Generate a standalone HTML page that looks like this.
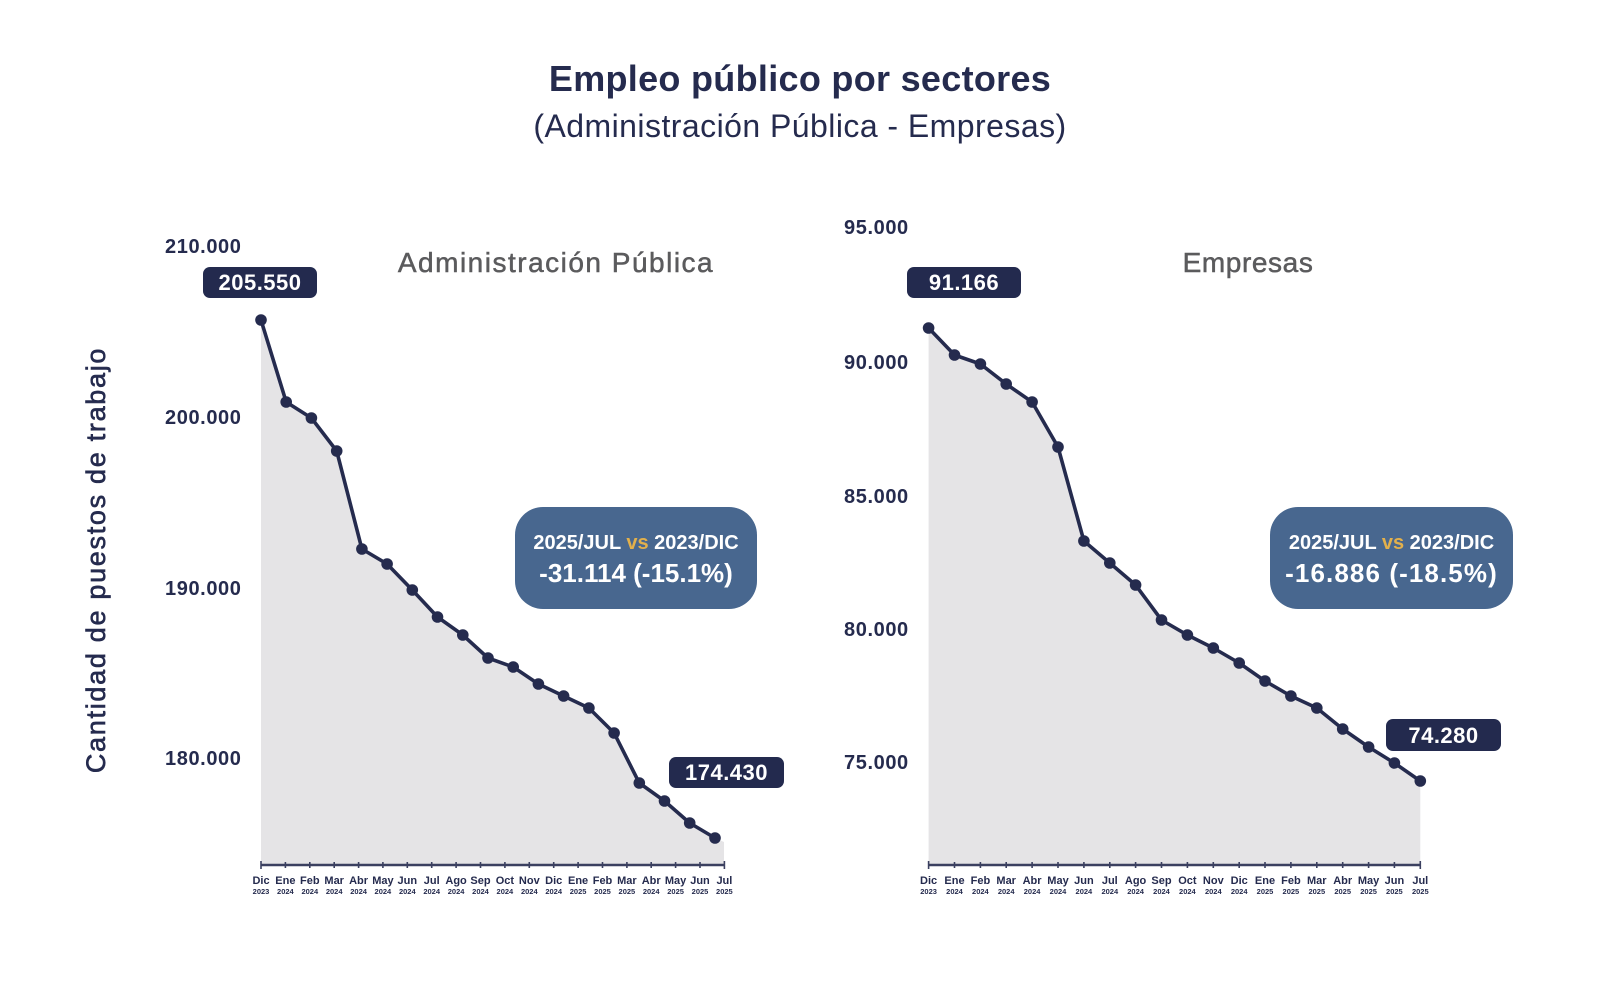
<!DOCTYPE html>
<html>
<head>
<meta charset="utf-8">
<style>
  html, body { margin: 0; padding: 0; background: #ffffff; }
  body { width: 1600px; height: 1004px; overflow: hidden; }
  svg { display: block; }
  text { font-family: "Liberation Sans", "DejaVu Sans", sans-serif; }
  .tick { font-size: 20px; font-weight: bold; fill: #252b4e; letter-spacing: 0.6px; }
  .mon { font-size: 11px; font-weight: bold; fill: #252b4e; text-anchor: middle; }
  .yr { font-size: 7.5px; font-weight: bold; fill: #252b4e; text-anchor: middle; }
  .lbl { font-size: 22px; font-weight: bold; fill: #ffffff; text-anchor: middle; letter-spacing: 0.5px; }
  .ct { font-size: 28px; fill: #5b5b5d; text-anchor: middle; letter-spacing: 1.5px; stroke: #5b5b5d; stroke-width: 0.5px; }
  .a1 { font-size: 20px; font-weight: bold; fill: #ffffff; text-anchor: middle; }
  .a2 { font-size: 26px; font-weight: bold; fill: #ffffff; text-anchor: middle; }
  .gold { fill: #e2b04c; }
</style>
</head>
<body>
<svg width="1600" height="1004" viewBox="0 0 1600 1004" xmlns="http://www.w3.org/2000/svg">
  <rect width="1600" height="1004" fill="#ffffff"/>

  <!-- Titles -->
  <text x="800" y="91" text-anchor="middle" style="font-size:36px;font-weight:bold;fill:#252b4e;letter-spacing:0.3px;">Empleo público por sectores</text>
  <text x="800" y="137" text-anchor="middle" style="font-size:32px;fill:#252b4e;letter-spacing:0.45px;">(Administración Pública - Empresas)</text>

  <!-- Y axis label -->
  <text transform="translate(105,560) rotate(-90)" text-anchor="middle" style="font-size:27px;fill:#252b4e;letter-spacing:1.7px;stroke:#252b4e;stroke-width:0.6px;">Cantidad de puestos de trabajo</text>

  <!-- ================= LEFT CHART ================= -->
  <text class="tick" x="165" y="253">210.000</text>
  <text class="tick" x="165" y="424">200.000</text>
  <text class="tick" x="165" y="595">190.000</text>
  <text class="tick" x="165" y="765">180.000</text>

  <text class="ct" x="556" y="272">Administración Pública</text>

  <polygon fill="#e5e4e6" points="261,320 286.2,402 311.4,418 336.7,451 361.9,549 387.1,564 412.3,590 437.5,617 462.8,635 488,658 513.2,667 538.4,684 563.6,696 588.9,708 614.1,733 639.3,783 664.5,801 689.7,823 715,838 724,842 724,865 261,865"/>

  <line x1="261" y1="865" x2="724.4" y2="865" stroke="#3b4060" stroke-width="2.5"/>
  <g stroke="#3b4060" stroke-width="1.6">
    <line x1="261" y1="861" x2="261" y2="869"/>
    <line x1="285.4" y1="862" x2="285.4" y2="868"/>
    <line x1="309.8" y1="862" x2="309.8" y2="868"/>
    <line x1="334.2" y1="862" x2="334.2" y2="868"/>
    <line x1="358.6" y1="862" x2="358.6" y2="868"/>
    <line x1="382.9" y1="862" x2="382.9" y2="868"/>
    <line x1="407.3" y1="862" x2="407.3" y2="868"/>
    <line x1="431.7" y1="862" x2="431.7" y2="868"/>
    <line x1="456.1" y1="862" x2="456.1" y2="868"/>
    <line x1="480.5" y1="862" x2="480.5" y2="868"/>
    <line x1="504.9" y1="862" x2="504.9" y2="868"/>
    <line x1="529.3" y1="862" x2="529.3" y2="868"/>
    <line x1="553.7" y1="862" x2="553.7" y2="868"/>
    <line x1="578.1" y1="862" x2="578.1" y2="868"/>
    <line x1="602.5" y1="862" x2="602.5" y2="868"/>
    <line x1="626.9" y1="862" x2="626.9" y2="868"/>
    <line x1="651.2" y1="862" x2="651.2" y2="868"/>
    <line x1="675.6" y1="862" x2="675.6" y2="868"/>
    <line x1="700" y1="862" x2="700" y2="868"/>
    <line x1="724.4" y1="861" x2="724.4" y2="869"/>
  </g>

  <g>
    <text class="mon" x="261" y="884">Dic</text><text class="yr" x="261" y="894">2023</text>
    <text class="mon" x="285.4" y="884">Ene</text><text class="yr" x="285.4" y="894">2024</text>
    <text class="mon" x="309.8" y="884">Feb</text><text class="yr" x="309.8" y="894">2024</text>
    <text class="mon" x="334.2" y="884">Mar</text><text class="yr" x="334.2" y="894">2024</text>
    <text class="mon" x="358.6" y="884">Abr</text><text class="yr" x="358.6" y="894">2024</text>
    <text class="mon" x="382.9" y="884">May</text><text class="yr" x="382.9" y="894">2024</text>
    <text class="mon" x="407.3" y="884">Jun</text><text class="yr" x="407.3" y="894">2024</text>
    <text class="mon" x="431.7" y="884">Jul</text><text class="yr" x="431.7" y="894">2024</text>
    <text class="mon" x="456.1" y="884">Ago</text><text class="yr" x="456.1" y="894">2024</text>
    <text class="mon" x="480.5" y="884">Sep</text><text class="yr" x="480.5" y="894">2024</text>
    <text class="mon" x="504.9" y="884">Oct</text><text class="yr" x="504.9" y="894">2024</text>
    <text class="mon" x="529.3" y="884">Nov</text><text class="yr" x="529.3" y="894">2024</text>
    <text class="mon" x="553.7" y="884">Dic</text><text class="yr" x="553.7" y="894">2024</text>
    <text class="mon" x="578.1" y="884">Ene</text><text class="yr" x="578.1" y="894">2025</text>
    <text class="mon" x="602.5" y="884">Feb</text><text class="yr" x="602.5" y="894">2025</text>
    <text class="mon" x="626.9" y="884">Mar</text><text class="yr" x="626.9" y="894">2025</text>
    <text class="mon" x="651.2" y="884">Abr</text><text class="yr" x="651.2" y="894">2024</text>
    <text class="mon" x="675.6" y="884">May</text><text class="yr" x="675.6" y="894">2025</text>
    <text class="mon" x="700" y="884">Jun</text><text class="yr" x="700" y="894">2025</text>
    <text class="mon" x="724.4" y="884">Jul</text><text class="yr" x="724.4" y="894">2025</text>
  </g>

  <polyline fill="none" stroke="#252b4e" stroke-width="3.6" stroke-linejoin="round" points="261,320 286.2,402 311.4,418 336.7,451 361.9,549 387.1,564 412.3,590 437.5,617 462.8,635 488,658 513.2,667 538.4,684 563.6,696 588.9,708 614.1,733 639.3,783 664.5,801 689.7,823 715,838"/>
  <g fill="#252b4e">
    <circle cx="261" cy="320" r="5.8"/><circle cx="286.2" cy="402" r="5.8"/><circle cx="311.4" cy="418" r="5.8"/>
    <circle cx="336.7" cy="451" r="5.8"/><circle cx="361.9" cy="549" r="5.8"/><circle cx="387.1" cy="564" r="5.8"/>
    <circle cx="412.3" cy="590" r="5.8"/><circle cx="437.5" cy="617" r="5.8"/><circle cx="462.8" cy="635" r="5.8"/>
    <circle cx="488" cy="658" r="5.8"/><circle cx="513.2" cy="667" r="5.8"/><circle cx="538.4" cy="684" r="5.8"/>
    <circle cx="563.6" cy="696" r="5.8"/><circle cx="588.9" cy="708" r="5.8"/><circle cx="614.1" cy="733" r="5.8"/>
    <circle cx="639.3" cy="783" r="5.8"/><circle cx="664.5" cy="801" r="5.8"/><circle cx="689.7" cy="823" r="5.8"/>
    <circle cx="715" cy="838" r="5.8"/>
  </g>

  <rect x="203" y="267" width="114" height="31" rx="7" fill="#232a4e"/>
  <text class="lbl" x="260" y="290">205.550</text>
  <rect x="669" y="757" width="115" height="31" rx="7" fill="#232a4e"/>
  <text class="lbl" x="726.5" y="780">174.430</text>

  <rect x="515" y="507" width="242" height="102" rx="28" fill="#48678f"/>
  <text class="a1" x="636" y="549">2025/JUL <tspan class="gold">vs</tspan> 2023/DIC</text>
  <text class="a2" x="636" y="582">-31.114 (-15.1%)</text>

  <!-- ================= RIGHT CHART ================= -->
  <text class="tick" x="844" y="234">95.000</text>
  <text class="tick" x="844" y="369">90.000</text>
  <text class="tick" x="844" y="503">85.000</text>
  <text class="tick" x="844" y="636">80.000</text>
  <text class="tick" x="844" y="769">75.000</text>

  <text class="ct" x="1248" y="272" style="letter-spacing:0.6px;">Empresas</text>

  <polygon fill="#e5e4e6" points="928.6,328 954.5,355 980.4,364 1006.2,384 1032.1,402 1058,447 1083.9,541 1109.8,563 1135.6,585 1161.5,620 1187.4,635 1213.3,648 1239.2,663 1265,681 1290.9,696 1316.8,708 1342.7,729 1368.6,747 1394.4,763 1420.3,781 1420.3,865 928.6,865"/>

  <line x1="928.6" y1="865" x2="1420.3" y2="865" stroke="#3b4060" stroke-width="2.5"/>
  <g stroke="#3b4060" stroke-width="1.6">
    <line x1="928.6" y1="861" x2="928.6" y2="869"/>
    <line x1="954.5" y1="862" x2="954.5" y2="868"/>
    <line x1="980.4" y1="862" x2="980.4" y2="868"/>
    <line x1="1006.2" y1="862" x2="1006.2" y2="868"/>
    <line x1="1032.1" y1="862" x2="1032.1" y2="868"/>
    <line x1="1058" y1="862" x2="1058" y2="868"/>
    <line x1="1083.9" y1="862" x2="1083.9" y2="868"/>
    <line x1="1109.8" y1="862" x2="1109.8" y2="868"/>
    <line x1="1135.6" y1="862" x2="1135.6" y2="868"/>
    <line x1="1161.5" y1="862" x2="1161.5" y2="868"/>
    <line x1="1187.4" y1="862" x2="1187.4" y2="868"/>
    <line x1="1213.3" y1="862" x2="1213.3" y2="868"/>
    <line x1="1239.2" y1="862" x2="1239.2" y2="868"/>
    <line x1="1265" y1="862" x2="1265" y2="868"/>
    <line x1="1290.9" y1="862" x2="1290.9" y2="868"/>
    <line x1="1316.8" y1="862" x2="1316.8" y2="868"/>
    <line x1="1342.7" y1="862" x2="1342.7" y2="868"/>
    <line x1="1368.6" y1="862" x2="1368.6" y2="868"/>
    <line x1="1394.4" y1="862" x2="1394.4" y2="868"/>
    <line x1="1420.3" y1="861" x2="1420.3" y2="869"/>
  </g>

  <g>
    <text class="mon" x="928.6" y="884">Dic</text><text class="yr" x="928.6" y="894">2023</text>
    <text class="mon" x="954.5" y="884">Ene</text><text class="yr" x="954.5" y="894">2024</text>
    <text class="mon" x="980.4" y="884">Feb</text><text class="yr" x="980.4" y="894">2024</text>
    <text class="mon" x="1006.2" y="884">Mar</text><text class="yr" x="1006.2" y="894">2024</text>
    <text class="mon" x="1032.1" y="884">Abr</text><text class="yr" x="1032.1" y="894">2024</text>
    <text class="mon" x="1058" y="884">May</text><text class="yr" x="1058" y="894">2024</text>
    <text class="mon" x="1083.9" y="884">Jun</text><text class="yr" x="1083.9" y="894">2024</text>
    <text class="mon" x="1109.8" y="884">Jul</text><text class="yr" x="1109.8" y="894">2024</text>
    <text class="mon" x="1135.6" y="884">Ago</text><text class="yr" x="1135.6" y="894">2024</text>
    <text class="mon" x="1161.5" y="884">Sep</text><text class="yr" x="1161.5" y="894">2024</text>
    <text class="mon" x="1187.4" y="884">Oct</text><text class="yr" x="1187.4" y="894">2024</text>
    <text class="mon" x="1213.3" y="884">Nov</text><text class="yr" x="1213.3" y="894">2024</text>
    <text class="mon" x="1239.2" y="884">Dic</text><text class="yr" x="1239.2" y="894">2024</text>
    <text class="mon" x="1265" y="884">Ene</text><text class="yr" x="1265" y="894">2025</text>
    <text class="mon" x="1290.9" y="884">Feb</text><text class="yr" x="1290.9" y="894">2025</text>
    <text class="mon" x="1316.8" y="884">Mar</text><text class="yr" x="1316.8" y="894">2025</text>
    <text class="mon" x="1342.7" y="884">Abr</text><text class="yr" x="1342.7" y="894">2025</text>
    <text class="mon" x="1368.6" y="884">May</text><text class="yr" x="1368.6" y="894">2025</text>
    <text class="mon" x="1394.4" y="884">Jun</text><text class="yr" x="1394.4" y="894">2025</text>
    <text class="mon" x="1420.3" y="884">Jul</text><text class="yr" x="1420.3" y="894">2025</text>
  </g>

  <polyline fill="none" stroke="#252b4e" stroke-width="3.6" stroke-linejoin="round" points="928.6,328 954.5,355 980.4,364 1006.2,384 1032.1,402 1058,447 1083.9,541 1109.8,563 1135.6,585 1161.5,620 1187.4,635 1213.3,648 1239.2,663 1265,681 1290.9,696 1316.8,708 1342.7,729 1368.6,747 1394.4,763 1420.3,781"/>
  <g fill="#252b4e">
    <circle cx="928.6" cy="328" r="5.8"/><circle cx="954.5" cy="355" r="5.8"/><circle cx="980.4" cy="364" r="5.8"/>
    <circle cx="1006.2" cy="384" r="5.8"/><circle cx="1032.1" cy="402" r="5.8"/><circle cx="1058" cy="447" r="5.8"/>
    <circle cx="1083.9" cy="541" r="5.8"/><circle cx="1109.8" cy="563" r="5.8"/><circle cx="1135.6" cy="585" r="5.8"/>
    <circle cx="1161.5" cy="620" r="5.8"/><circle cx="1187.4" cy="635" r="5.8"/><circle cx="1213.3" cy="648" r="5.8"/>
    <circle cx="1239.2" cy="663" r="5.8"/><circle cx="1265" cy="681" r="5.8"/><circle cx="1290.9" cy="696" r="5.8"/>
    <circle cx="1316.8" cy="708" r="5.8"/><circle cx="1342.7" cy="729" r="5.8"/><circle cx="1368.6" cy="747" r="5.8"/>
    <circle cx="1394.4" cy="763" r="5.8"/><circle cx="1420.3" cy="781" r="5.8"/>
  </g>

  <rect x="907" y="267" width="114" height="31" rx="7" fill="#232a4e"/>
  <text class="lbl" x="964" y="290">91.166</text>
  <rect x="1386" y="719" width="115" height="32" rx="7" fill="#232a4e"/>
  <text class="lbl" x="1443.5" y="743">74.280</text>

  <rect x="1270" y="507" width="243" height="102" rx="28" fill="#48678f"/>
  <text class="a1" x="1391.5" y="549">2025/JUL <tspan class="gold">vs</tspan> 2023/DIC</text>
  <text class="a2" x="1391.5" y="582" style="letter-spacing:1.1px;">-16.886 (-18.5%)</text>
</svg>
</body>
</html>
